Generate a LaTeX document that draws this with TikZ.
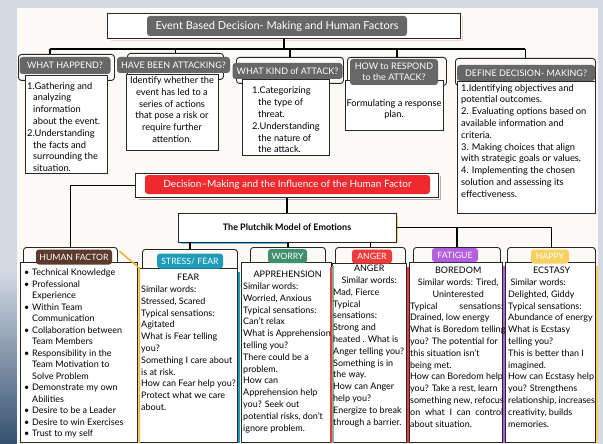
\documentclass[tikz,border=0pt]{standalone}
\usepackage{fontspec}
\setmainfont{Lato}

\definecolor{bggray}{HTML}{D3DAE4}
\definecolor{paper}{HTML}{FBFAF6}
\definecolor{pillgray}{HTML}{676767}
\definecolor{hfred}{HTML}{EF2A2E}
\definecolor{hfbrown}{HTML}{5C3B2E}
\definecolor{fearteal}{HTML}{1E9CB8}
\definecolor{worrygreen}{HTML}{3F8F70}
\definecolor{angerred}{HTML}{F03B3B}
\definecolor{fatiguepurple}{HTML}{B45FE0}
\definecolor{happyyellow}{HTML}{F7D060}
\definecolor{accentorange}{HTML}{F0B43C}
\definecolor{navy}{HTML}{34506F}

\newcommand\toplbl{\fontsize{9}{10.5}\selectfont}
\newcommand\botlbl{\fontsize{8.7}{10}\selectfont}
\newcommand\bodyfont{\fontsize{9}{11.8}\selectfont}
\newcommand\topfont{\fontsize{9.3}{11.8}\selectfont}
\newcommand\ind{\hspace*{6pt}}
\newcommand\bl{\makebox[8pt][l]{\textbullet}}

\tikzset{
  link/.style={line width=1.1pt, black},
  cardback/.style={draw=black!85, line width=0.9pt, fill=paper, rounded corners=3pt,
    inner sep=0pt, anchor=north west},
  cardbody/.style={draw=black!85, line width=0.9pt, fill=white, inner sep=0pt, anchor=north west},
  pill/.style={fill=#1, text=white, rounded corners=3pt, inner sep=0pt},
  bodytext/.style={anchor=north west, inner sep=0pt, align=left, font=\bodyfont, text=black},
  accent/.style={line width=1.6pt, #1},
}

\begin{document}
\begin{tikzpicture}[x=1pt,y=-1pt]
\useasboundingbox (0,0) rectangle (603,444);
\fill[bggray] (0,0) rectangle (603,444);
\shade[top color=bggray, bottom color=navy] (0,270) rectangle (17,444);
\fill[paper] (17,8) rectangle (598,444);

% title
\node[cardbody, minimum width=353, minimum height=25] (titleBox) at (107,13) {};
\draw[accent=pink!70, line width=1.2pt] ([xshift=1.3pt,yshift=-3pt]titleBox.north east)
  |- ([xshift=4pt,yshift=-1.3pt]titleBox.south west);
\node[pill=pillgray, minimum width=260, minimum height=20, font=\fontsize{11}{13}\selectfont]
  (title) at (277,26) {Event Based Decision- Making and Human Factors};

\coordinate (busL) at (50,49);
\draw[link] (titleBox.south) -- (titleBox.south |- busL);

% first row
\node[cardback, minimum width=96, minimum height=26] (whatBack) at (18,54) {};
\node[cardback, minimum width=96, minimum height=26] (haveBack) at (127,53) {};
\node[cardback, minimum width=107, minimum height=26] (kindBack) at (236,57) {};
\node[cardback, minimum width=99, minimum height=28] (howBack) at (347,57) {};
\node[cardback, minimum width=140, minimum height=27] (defBack) at (455,58) {};

\draw[link] (busL) -- (defBack.north |- busL);
\draw[link] (busL) -- (busL |- whatBack.north);
\draw[link] (haveBack.north |- busL) -- (haveBack.north);
\draw[link] (kindBack.north |- busL) -- (kindBack.north);
\draw[link] (howBack.north |- busL) -- (howBack.north);
\draw[link] (defBack.north |- busL) -- (defBack.north);

\node[cardbody, minimum width=82, minimum height=98] (whatBody) at (25,75) {};
\node[cardbody, minimum width=92, minimum height=76] (haveBody) at (126,74) {};
\node[cardbody, minimum width=87, minimum height=76] (kindBody) at (242,79) {};
\node[cardbody, minimum width=98, minimum height=50] (howBody) at (345,80) {};
\node[cardbody, minimum width=138, minimum height=132] (defBody) at (457,81) {};

\node[pill=pillgray, minimum width=91, minimum height=17, font=\toplbl] (whatLbl) at (65,65.5) {WHAT HAPPEND?};
\node[pill=pillgray, minimum width=113, minimum height=16, font=\toplbl] (haveLbl) at (173.5,65) {HAVE BEEN ATTACKING?};
\node[pill=pillgray, minimum width=110, minimum height=16, font=\toplbl] (kindLbl) at (287.5,71) {WHAT KIND of ATTACK?};
\node[pill=pillgray, minimum width=88, minimum height=26, align=center, font=\toplbl] (howLbl) at (394,72) {HOW to RESPOND\\to the ATTACK?};
\node[pill=pillgray, minimum width=138, minimum height=16, font=\toplbl] (defLbl) at (526,73) {DEFINE DECISION- MAKING?};

\node[bodytext, font=\topfont] (whatTxt) at (27,82) {1.Gathering and\\\ind analyzing\\\ind information\\\ind about the event.\\
  2.Understanding\\\ind the facts and\\\ind surrounding the\\\ind situation.};
\node[bodytext, font=\topfont, anchor=north, align=center] (haveTxt) at (172,76.5) {Identify whether the\\event has led to a\\series of actions\\
  that pose a risk or\\require further\\attention.};
\node[bodytext, font=\topfont] (kindTxt) at (252,87) {1.Categorizing\\\ind the type of\\\ind threat.\\2.Understanding\\\ind the nature of\\\ind the attack.};
\node[bodytext, font=\topfont, anchor=north, align=center] (howTxt) at (394,99) {Formulating a response\\plan.};
\node[bodytext, font=\topfont] (defTxt) at (461,84) {1.Identifying objectives and\\potential outcomes.\\2. Evaluating options based on\\
  available information and\\criteria.\\3. Making choices that align\\with strategic goals or values.\\
  4. Implementing the chosen\\solution and assessing its\\effectiveness.};

% middle
\node[cardbody, minimum width=303, minimum height=24] (redBox) at (135,173) {};
\draw[accent=black!30, line width=1.2pt] ([xshift=1.3pt,yshift=-3pt]redBox.north east)
  |- ([xshift=4pt,yshift=-1.3pt]redBox.south west);
\node[pill=hfred, minimum width=285, minimum height=19, font=\fontsize{10}{12}\selectfont]
  (redLbl) at (287.5,184.5) {Decision--Making and the Influence of the Human Factor};
\node[draw=black!85, line width=0.9pt, fill=white, minimum width=218, minimum height=29,
  font=\fontsize{9}{11}\selectfont\bfseries] (plut) at (287,227.5) {The Plutchik Model of Emotions};
\draw[accent=cyan!70, line width=1.2pt] ([xshift=3pt,yshift=-1.3pt]plut.south west) -- ([yshift=-1.3pt]plut.south);
\draw[accent=happyyellow, line width=1.2pt] ([xshift=1.3pt,yshift=-3pt]plut.north east) -- ([xshift=1.3pt]plut.south east);
\draw[link] (redBox.south) -- (redBox.south |- plut.north);

% bottom row
\node[cardback, minimum width=94, minimum height=24] (hfBack) at (23,247) {};
\node[cardback, minimum width=95, minimum height=24] (stressBack) at (142,249) {};
\node[cardback, minimum width=75, minimum height=22] (worryBack) at (250,247) {};
\node[cardback, minimum width=70, minimum height=22] (angerBack) at (335,247) {};
\node[cardback, minimum width=87, minimum height=22] (fatigueBack) at (413,247) {};
\node[cardback, minimum width=88, minimum height=22] (happyBack) at (507,247) {};

\draw[link] (redBox.west) -| (hfBack.north);
\draw[link] (stressBack.north) -- (stressBack.north |- plut.south);
\draw[link] (worryBack.north) -- (worryBack.north |- plut.south);
\draw[link] (angerBack.north) -- (angerBack.north |- plut.south);
\draw[link] (plut.east) -| (happyBack.north);
\draw[link] (fatigueBack.north) -- (fatigueBack.north |- plut.east);

\node[cardbody, minimum width=117, minimum height=180] (hfBody) at (20,262) {};
\node[cardbody, minimum width=98, minimum height=174] (stressBody) at (139,268) {};
\node[cardbody, minimum width=90, minimum height=180] (worryBody) at (241,262) {};
\node[cardbody, minimum width=74, minimum height=179] (angerBody) at (332,263) {};
\node[cardbody, minimum width=93, minimum height=180] (fatigueBody) at (409,262) {};
\node[cardbody, minimum width=90, minimum height=180] (happyBody) at (505,262) {};

\draw[accent=accentorange] ([xshift=1.3pt,yshift=-4pt]hfBack.north east) -- ([xshift=1.3pt,yshift=-6pt]hfBody.north east) -- ([xshift=1.3pt]hfBody.south east);
\draw[accent=fearteal] ([xshift=1.3pt,yshift=-4pt]stressBody.north east) -- ([xshift=1.3pt]stressBody.south east);
\draw[accent=worrygreen!70] ([xshift=1.3pt,yshift=-4pt]worryBody.north east) -- ([xshift=1.3pt]worryBody.south east);
\draw[accent=angerred] ([xshift=1.3pt,yshift=-4pt]angerBody.north east) -- ([xshift=1.3pt]angerBody.south east);
\draw[accent=angerred] ([xshift=-1.3pt,yshift=-4pt]angerBody.north west) -- ([xshift=-1.3pt]angerBody.south west);
\draw[accent=fatiguepurple] ([xshift=1.3pt,yshift=-4pt]fatigueBody.north east) -- ([xshift=1.3pt]fatigueBody.south east);
\draw[accent=happyyellow] ([xshift=1.3pt,yshift=-4pt]happyBody.north east) -- ([xshift=1.3pt]happyBody.south east);

\node[pill=hfbrown, minimum width=76, minimum height=15, font=\botlbl] (hfLbl) at (74,257) {HUMAN FACTOR};
\node[pill=fearteal, minimum width=66, minimum height=15, font=\botlbl] (stressLbl) at (190,261) {STRESS/ FEAR};
\node[pill=worrygreen, minimum width=39, minimum height=14, font=\botlbl] (worryLbl) at (287.5,256) {WORRY};
\node[pill=angerred, minimum width=40, minimum height=14, font=\botlbl] (angerLbl) at (372,256.5) {ANGER};
\node[pill=fatiguepurple, minimum width=46, minimum height=14, font=\botlbl] (fatigueLbl) at (455,255) {FATIGUE};
\node[pill=happyyellow, minimum width=38, minimum height=14, font=\botlbl] (happyLbl) at (550,256.5) {HAPPY};

\node[bodytext, font=\fontsize{9}{11.5}\selectfont] (hfTxt) at (24,269) {\bl Technical Knowledge\\\bl Professional\\\hspace*{8pt}Experience\\
  \bl Within Team\\\hspace*{8pt}Communication\\\bl Collaboration between\\\hspace*{8pt}Team Members\\
  \bl Responsibility in the\\\hspace*{8pt}Team Motivation to\\\hspace*{8pt}Solve Problem\\
  \bl Demonstrate my own\\\hspace*{8pt}Abilities\\\bl Desire to be a Leader\\\bl Desire to win Exercises\\\bl Trust to my self};
\node[bodytext] (stressTxt) at (141,274) {\makebox[94pt]{FEAR}\\Similar words:\\Stressed, Scared\\Typical sensations:\\Agitated\\
  What is Fear telling\\you?\\Something I care about\\is at risk.\\How can Fear help you?\\Protect what we care\\about.};
\node[bodytext] (worryTxt) at (243,271) {\makebox[89pt]{APPREHENSION}\\Similar words:\\Worried, Anxious\\Typical sensations:\\
  Can't relax\\What is Apprehension\\telling you?\\There could be a\\problem.\\How can\\Apprehension help\\
  you? Seek out\\potential risks, don't\\ignore problem.};
\node[bodytext] (angerTxt) at (333,265) {\makebox[72pt]{ANGER}\\\makebox[72pt]{Similar words:}\\Mad, Fierce\\Typical\\sensations:\\
  Strong and\\heated . What is\\Anger telling you?\\Something is in\\the way.\\How can Anger\\help you?\\
  Energize to break\\through a barrier.};
\node[bodytext] (fatigueTxt) at (410,267) {\makebox[96pt]{BOREDOM}\\\makebox[96pt]{Similar words: Tired,}\\\makebox[96pt]{Uninterested}\\
  \makebox[93pt][s]{Typical\hfill sensations:}\\Drained, low energy\\What is Boredom telling\\you? The potential for\\
  this situation isn't\\being met.\\How can Boredom help\\you? Take a rest, learn\\something new, refocus\\
  \makebox[93pt][s]{on\hfill what\hfill I\hfill can\hfill control}\\about situation.};
\node[bodytext] (happyTxt) at (508,267) {\makebox[87pt]{ECSTASY}\\\ Similar words:\\Delighted, Giddy\\Typical sensations:\\
  Abundance of energy\\What is Ecstasy\\telling you?\\This is better than I\\imagined.\\How can Ecstasy help\\
  you? Strengthens\\relationship, increases\\creativity, builds\\memories.};
\end{tikzpicture}
\end{document}
